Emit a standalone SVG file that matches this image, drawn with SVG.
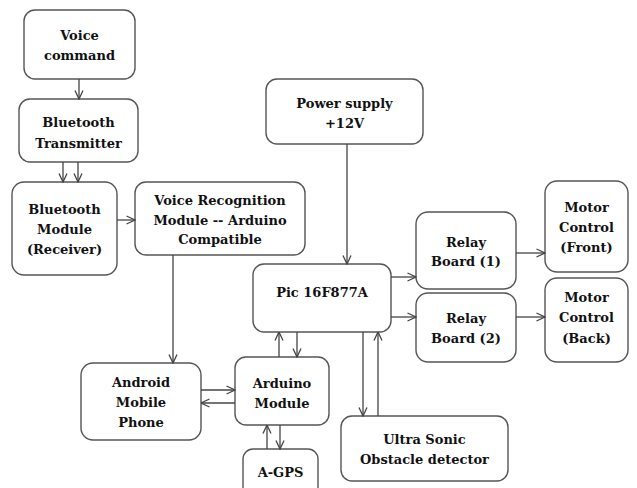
<svg xmlns="http://www.w3.org/2000/svg" width="637" height="488" viewBox="0 0 637 488">
<defs>
<marker id="ah" viewBox="0 0 10 10" refX="9.5" refY="5" markerWidth="10" markerHeight="10" markerUnits="userSpaceOnUse" orient="auto">
<path d="M1,1 L9.5,5 L1,9" fill="none" stroke="#444" stroke-width="1.3"/>
</marker>
<style>
.b{fill:#fff;stroke:#555;stroke-width:1.4}
text{font-family:"DejaVu Serif",serif;font-weight:bold;font-size:13px;fill:#111;text-anchor:middle}
.c line{stroke:#444;stroke-width:1.3;marker-end:url(#ah)}
</style>
</defs>
<rect width="637" height="488" fill="#fff"/>
<g id="voice"><rect class="b" x="24" y="10" width="111" height="69" rx="11"/><text x="79.5" y="40">Voice</text><text x="79.5" y="60">command</text></g>
<g id="bt-tx"><rect class="b" x="19" y="99" width="119" height="63" rx="11"/><text x="78.5" y="127">Bluetooth</text><text x="78.5" y="148">Transmitter</text></g>
<g id="bt-rx"><rect class="b" x="12" y="182" width="105" height="93" rx="12"/><text x="64.5" y="214">Bluetooth</text><text x="64.5" y="234">Module</text><text x="64.5" y="254">(Receiver)</text></g>
<g id="vr"><rect class="b" x="135" y="182" width="170" height="73" rx="11"/><text x="220" y="205">Voice Recognition</text><text x="220" y="225">Module -- Arduino</text><text x="220" y="244">Compatible</text></g>
<g id="power"><rect class="b" x="266" y="79" width="157" height="65" rx="11"/><text x="344.5" y="108">Power supply</text><text x="344.5" y="128">+12V</text></g>
<g id="pic"><rect class="b" x="253" y="264" width="138" height="68" rx="11"/><text x="322" y="297">Pic 16F877A</text></g>
<g id="relay1"><rect class="b" x="416" y="212" width="100" height="77" rx="12"/><text x="466" y="247">Relay</text><text x="466" y="266">Board (1)</text></g>
<g id="relay2"><rect class="b" x="416" y="293" width="100" height="69" rx="12"/><text x="466" y="323">Relay</text><text x="466" y="343">Board (2)</text></g>
<g id="motor-front"><rect class="b" x="545" y="181" width="83" height="91" rx="12"/><text x="586.5" y="212">Motor</text><text x="586.5" y="232">Control</text><text x="586.5" y="252">(Front)</text></g>
<g id="motor-back"><rect class="b" x="545" y="278" width="83" height="84" rx="12"/><text x="586.5" y="302">Motor</text><text x="586.5" y="322">Control</text><text x="586.5" y="343">(Back)</text></g>
<g id="android"><rect class="b" x="81" y="363" width="120" height="77" rx="12"/><text x="141" y="387">Android</text><text x="141" y="407">Mobile</text><text x="141" y="427">Phone</text></g>
<g id="arduino"><rect class="b" x="235" y="357" width="94" height="68" rx="11"/><text x="282" y="388">Arduino</text><text x="282" y="408">Module</text></g>
<g id="agps"><rect class="b" x="243" y="449" width="75" height="50" rx="10"/><text x="280.5" y="477">A-GPS</text></g>
<g id="ultra"><rect class="b" x="341" y="416" width="167" height="65" rx="11"/><text x="424.5" y="444">Ultra Sonic</text><text x="424.5" y="464">Obstacle detector</text></g>
<g id="connectors" class="c">
<line x1="79" y1="79" x2="79" y2="99"/>
<line x1="63" y1="162" x2="63" y2="182"/>
<line x1="78" y1="162" x2="78" y2="182"/>
<line x1="117" y1="220" x2="135" y2="220"/>
<line x1="173" y1="255" x2="173" y2="363"/>
<line x1="347" y1="144" x2="347" y2="264"/>
<line x1="391" y1="277" x2="416" y2="277"/>
<line x1="391" y1="317" x2="416" y2="317"/>
<line x1="516" y1="253" x2="545" y2="253"/>
<line x1="516" y1="317" x2="545" y2="317"/>
<line x1="201" y1="390" x2="235" y2="390"/>
<line x1="235" y1="403" x2="201" y2="403"/>
<line x1="279" y1="357" x2="279" y2="332"/>
<line x1="297" y1="332" x2="297" y2="357"/>
<line x1="267" y1="449" x2="267" y2="425"/>
<line x1="280" y1="425" x2="280" y2="449"/>
<line x1="363" y1="332" x2="363" y2="416"/>
<line x1="378" y1="416" x2="378" y2="332"/>
</g>
</svg>
